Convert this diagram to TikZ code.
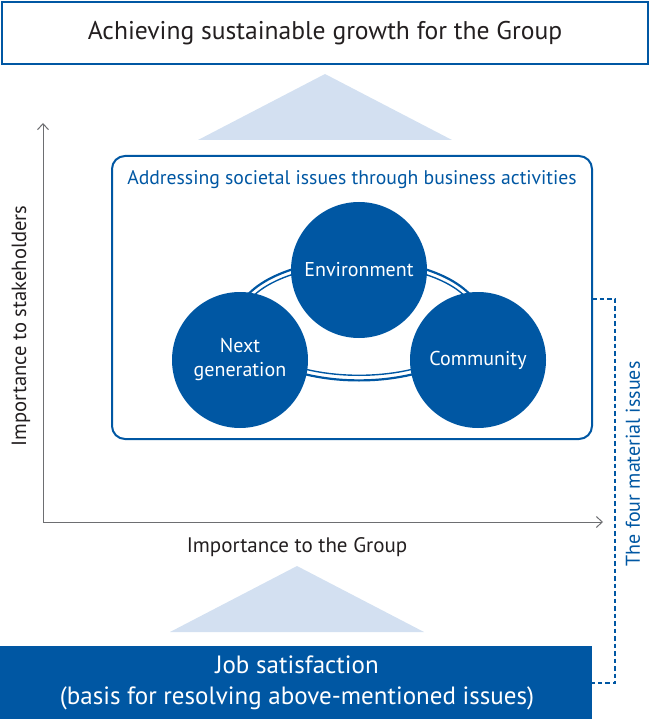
\documentclass[tikz,border=0pt]{standalone}
\usepackage{fontspec}
\setmainfont{PT Sans}
\usetikzlibrary{arrows.meta}
\definecolor{mblue}{HTML}{0057A3}
\definecolor{ltblue}{HTML}{D3E0F1}
\definecolor{axisgray}{HTML}{6D6E71}
\definecolor{txtdark}{HTML}{231F20}
\tikzset{
  circ/.style={circle, fill=mblue, text=white, minimum size=136pt, inner sep=0pt, align=center, font=\fontsize{20}{24}\selectfont},
  axisline/.style={draw=axisgray, line width=1pt},
  bracket/.style={draw=mblue, line width=1.6pt, dash pattern=on 4.5pt off 3pt},
  ring/.style={draw=mblue},
}
\begin{document}
\begin{tikzpicture}[x=1pt,y=-1pt]
\useasboundingbox (0,0) rectangle (650,719);
% top goal box
\node[draw=mblue, line width=2pt, minimum width=646pt, minimum height=62pt, inner sep=0pt, text=txtdark, font=\fontsize{25.6}{30}\selectfont] (goal) at (325,33) {Achieving sustainable growth for the Group};
% triangles
\fill[ltblue] (198,140) -- (325,74) -- (452,140) -- cycle;
\fill[ltblue] (170,632) -- (297,566) -- (424,632) -- cycle;
% axes
\coordinate (ytip) at (43,123);
\coordinate (origin) at (43,522);
\coordinate (xtip) at (603,522);
\draw[axisline, {Straight Barb[length=6pt,width=11pt]}-{Straight Barb[length=6pt,width=11pt]}] (ytip) -- (origin) -- (xtip);
\node[rotate=90, text=txtdark, font=\fontsize{20.6}{24}\selectfont] (ylab) at (21,326) {Importance to stakeholders};
\node[text=txtdark, font=\fontsize{21}{24}\selectfont] (xlab) at (297,547) {Importance to the Group};
% societal box
\node[draw=mblue, line width=2pt, rounded corners=13pt, minimum width=480pt, minimum height=283pt, inner sep=0pt] (sbox) at (352,297.5) {};
\node[anchor=base, text=mblue, font=\fontsize{19.7}{24}\selectfont] (stitle) at (352,185) {Addressing societal issues through business activities};
% ring
\draw[ring, line width=2.2pt] (359,320) ellipse [x radius=122.4pt, y radius=60.4pt];
\draw[ring, line width=1.4pt] (359,320) ellipse [x radius=117.3pt, y radius=55.3pt];
% circles
\node[circ] (env) at (359,270) {Environment};
\node[circ] (nextg) at (240,360) {Next\\generation};
\node[circ] (comm) at (478,360) {Community};
% base box
\node[fill=mblue, minimum width=592pt, minimum height=73pt, inner sep=0pt] (base) at (296,682.5) {};
\node[text=white, align=center, font=\fontsize{25}{31}\selectfont] (basetxt) at (297,683) {Job satisfaction\\(basis for resolving above-mentioned issues)};
% bracket
\coordinate (bt) at (592,299);
\coordinate (btr) at (615,299);
\coordinate (bbr) at (615,683);
\coordinate (bb) at (592,683);
\draw[bracket] (bt) -- (btr) -- (bbr) -- (bb);
\node[rotate=90, text=mblue, font=\fontsize{20}{24}\selectfont] (blab) at (633,464) {The four material issues};
\end{tikzpicture}
\end{document}
